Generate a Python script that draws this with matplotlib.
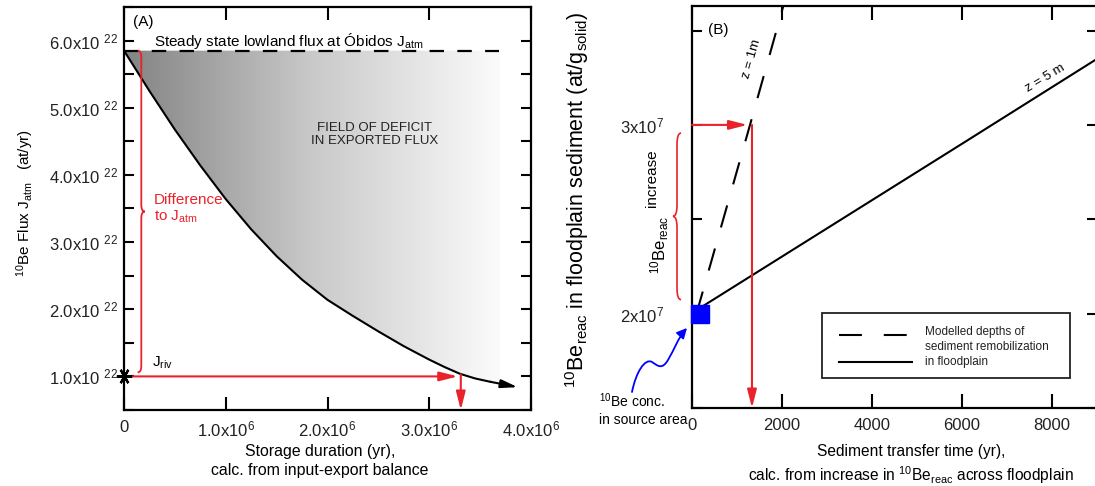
import numpy as np
import matplotlib
matplotlib.use("Agg")
import matplotlib.pyplot as plt
from matplotlib.path import Path
from matplotlib.patches import PathPatch, FancyArrowPatch, Rectangle

plt.rcParams['font.family'] = ['Liberation Sans', 'DejaVu Sans']
plt.rcParams['mathtext.fontset'] = 'custom'
plt.rcParams['mathtext.rm'] = 'Liberation Sans'
plt.rcParams['mathtext.it'] = 'Liberation Sans:italic'
plt.rcParams['mathtext.bf'] = 'Liberation Sans:bold'

# ---- panel A: exported flux vs storage duration ----
storage_yr = [0, 0.1e6, 0.25e6, 0.5e6, 0.75e6, 1.0e6, 1.25e6, 1.5e6, 1.75e6, 2.0e6,
              2.25e6, 2.5e6, 2.75e6, 3.0e6, 3.15e6, 3.3e6, 3.45e6, 3.6e6, 3.87e6]
flux_riv = [5.85e22, 5.61e22, 5.25e22, 4.675e22, 4.14e22, 3.64e22, 3.19e22, 2.79e22,
            2.44e22, 2.14e22, 1.90e22, 1.67e22, 1.45e22, 1.25e22, 1.14e22, 1.04e22,
            0.97e22, 0.92e22, 0.84e22]
J_atm = 5.85e22
J_riv = 1.0e22
storage_at_Jriv = 3.31e6
field_end = 3.69e6
xticks_A = [0, 1e6, 2e6, 3e6, 4e6]
xticklabels_A = ['0', r'1.0x10$^{6}$', r'2.0x10$^{6}$', r'3.0x10$^{6}$', r'4.0x10$^{6}$']
yticks_A = [1e22, 2e22, 3e22, 4e22, 5e22, 6e22]
yticklabels_A = [r'%d.0x10 $^{22}$' % v for v in range(1, 7)]

# ---- panel B: 10Be_reac vs sediment transfer time ----
z1_time = [100, 1289, 2100]
z1_conc = [2.0e7, 3.0e7, 3.69e7]
z5_time = [244, 6067, 9000]
z5_conc = [2.04e7, 2.91e7, 3.35e7]
source_time = 178
source_conc = 2.0e7
conc_target = 3.0e7
transfer_time = 1333
xticks_B = [0, 2000, 4000, 6000, 8000]
yticks_B = [1.5e7, 2.0e7, 2.5e7, 3.0e7, 3.5e7]
yticklabels_B = ['', r'2x10$^{7}$', '', r'3x10$^{7}$', '']

RED = '#e8232b'
W, H = 1095, 486


def brace(ax, x, y0, y1, w, h, sign, **kw):
    # curly brace along y at x; sign=+1 tip to the right, -1 to the left
    ym = 0.5 * (y0 + y1)
    e = x - sign * w
    t = x + sign * w
    verts = [(e, y1), (x, y1), (x, y1 - h),
             (x, ym + h),
             (x, ym), (t, ym),
             (x, ym), (x, ym - h),
             (x, y0 + h),
             (x, y0), (e, y0)]
    codes = [Path.MOVETO, Path.CURVE3, Path.CURVE3,
             Path.LINETO,
             Path.CURVE3, Path.CURVE3,
             Path.CURVE3, Path.CURVE3,
             Path.LINETO,
             Path.CURVE3, Path.CURVE3]
    p = PathPatch(Path(verts, codes), fill=False, clip_on=False, **kw)
    ax.add_patch(p)


def arrow(ax, start, end, color, hl=1.1, hw=0.28, lw=1.5):
    ax.annotate('', xy=end, xytext=start, annotation_clip=False,
                arrowprops=dict(arrowstyle='-|>,head_length=%g,head_width=%g' % (hl, hw),
                                color=color, lw=lw, shrinkA=0, shrinkB=0))


def px_axes(ax_box, x, y):
    # figure pixel -> axes fraction for an axes placed at ax_box (left, top, right, bottom px)
    l, t, r, b = ax_box
    return (x - l) / (r - l), (b - y) / (b - t)


fig = plt.figure(figsize=(10.95, 4.86), dpi=100)

# ================= panel A =================
boxA = (124, 7, 531, 410)
axA = fig.add_axes([boxA[0] / W, (H - boxA[3]) / H, (boxA[2] - boxA[0]) / W,
                    (boxA[3] - boxA[1]) / H])
axA.set_xlim(0, 4e6)
axA.set_ylim(0.5e22, 6.5e22)

# shaded deficit field: grey ramp clipped between J_atm and the export curve
poly = axA.fill_between(storage_yr, flux_riv, J_atm, facecolor='none', edgecolor='none')
ramp = np.linspace(0.0, 1.0, 256).reshape(1, -1)
im = axA.imshow(ramp, cmap=matplotlib.colors.LinearSegmentedColormap.from_list(
    'g', ['#838383', '#c9c9c9', '#fbfbfb']), aspect='auto',
    extent=(0, field_end, 0.5e22, J_atm), zorder=1)
im.set_clip_path(poly.get_paths()[0], transform=axA.transData)

axA.plot([0, field_end], [J_atm, J_atm], color='black', lw=1.6,
         linestyle=(0, (6.5, 6)), zorder=3)
axA.plot(storage_yr[:-1], flux_riv[:-1], color='black', lw=1.5, zorder=3)
arrow(axA, (storage_yr[-2], flux_riv[-2]), (storage_yr[-1], flux_riv[-1]), 'black',
      hl=1.0, hw=0.25)

# J_riv read-off
arrow(axA, (0, J_riv), (storage_at_Jriv - 0.03e6, J_riv), RED)
arrow(axA, (storage_at_Jriv, 1.03e22), (storage_at_Jriv, 0.5e22), RED)
axA.plot([0], [J_riv], marker=(6, 2, 90), ms=11, mew=1.6, color='black',
         clip_on=False, zorder=6)
brace(axA, 0.17e6, 1.06e22, J_atm, 0.035e6, 0.1e22, +1, color=RED, lw=1.3, zorder=4)

axA.text(0.09e6, 6.27e22, '(A)', fontsize=11, va='center')
axA.text(0.29e6, 6.0e22, r'Steady state lowland flux at Óbidos J$_{\rm atm}$',
         fontsize=11, va='center')
axA.text(2.46e6, 4.6e22, 'FIELD OF DEFICIT\nIN EXPORTED FLUX', fontsize=9.5,
         ha='center', va='center', linespacing=1.15, color='#222222')
axA.text(0.29e6, 3.49e22, 'Difference\n' + r'to J$_{\rm atm}$', fontsize=11, color=RED,
         va='center', linespacing=1.1)
axA.text(0.28e6, 1.21e22, r'J$_{\rm riv}$', fontsize=11, va='center')

axA.set_xticks(xticks_A)
axA.set_xticklabels(xticklabels_A)
axA.set_yticks(yticks_A)
axA.set_yticklabels(yticklabels_A)
axA.set_yticks(np.arange(0.5e22, 6.6e22, 0.5e22), minor=True)
axA.tick_params(axis='x', direction='in', top=True, length=9.5, width=1.5,
                labelsize=12, pad=7)
axA.tick_params(axis='y', which='both', direction='in', right=True, length=7.5,
                width=1.5, labelsize=12, pad=4)
axA.text(*px_axes(boxA, 25, 203), r'$^{10}$Be Flux J$_{\rm atm}$   (at/yr)',
         transform=axA.transAxes, rotation=90, ha='center', va='center', fontsize=11)
axA.text(*px_axes(boxA, 320, 444), 'Storage duration (yr),\ncalc. from input-export balance',
         transform=axA.transAxes, ha='center', va='top', fontsize=11.4, linespacing=1.3)

# ================= panel B =================
boxB = (692, 6, 1097, 408)
axB = fig.add_axes([boxB[0] / W, (H - boxB[3]) / H, (boxB[2] - boxB[0]) / W,
                    (boxB[3] - boxB[1]) / H])
axB.set_xlim(0, 9000)
axB.set_ylim(1.5e7, 3.63e7)

axB.plot(z1_time, z1_conc, color='black', lw=1.5, linestyle=(0, (11, 10.5)), zorder=3)
axB.plot(z5_time, z5_conc, color='black', lw=1.5, zorder=3)
axB.plot([source_time], [source_conc], marker='s', ms=12.5, color='blue',
         clip_on=False, zorder=5)

arrow(axB, (0, conc_target), (transfer_time - 100, conc_target), RED)
arrow(axB, (transfer_time, conc_target), (transfer_time, 1.5e7), RED)
brace(axB, -333, 2.074e7, 2.957e7, 90, 0.06e7, -1, color=RED, lw=1.2, zorder=4)

axB.text(0.04, 0.94, '(B)', transform=axB.transAxes, fontsize=11, va='center')
axB.text(1333, 3.35e7, 'z = 1m', rotation=74, fontsize=9.5, ha='center', va='center')
axB.text(7844, 3.245e7, 'z = 5 m', rotation=31, fontsize=9.5, ha='center', va='center')

# legend box
axB.add_patch(Rectangle((0.321, 0.075), 0.612, 0.161, transform=axB.transAxes,
                        fill=False, lw=1.3, edgecolor='#222222'))
axB.plot([0.363, 0.531], [0.182, 0.182], transform=axB.transAxes, color='black',
         lw=1.5, linestyle=(0, (11, 10.5)))
axB.plot([0.363, 0.543], [0.114, 0.114], transform=axB.transAxes, color='black', lw=1.5)
axB.text(0.575, 0.152, 'Modelled depths of\nsediment remobilization\nin floodplain',
         transform=axB.transAxes, fontsize=8.5, va='center', linespacing=1.3,
         color='#222222')

axB.set_xticks(xticks_B)
axB.set_yticks(yticks_B)
axB.set_yticklabels(yticklabels_B)
axB.tick_params(axis='x', direction='in', top=True, length=10, width=1.5,
                labelsize=12, pad=7)
axB.tick_params(axis='y', direction='in', right=True, length=7.5, width=1.5,
                labelsize=12, pad=20)
axB.text(*px_axes(boxB, 660, 245), r'$^{10}$Be$_{\rm reac}$', transform=axB.transAxes,
         rotation=90, ha='center', va='center', fontsize=12)
axB.text(*px_axes(boxB, 652, 178), 'increase', transform=axB.transAxes,
         rotation=90, ha='center', va='center', fontsize=11)
axB.text(*px_axes(boxB, 577, 200),
         r'$^{10}$Be$_{\rm reac}$ in floodplain sediment (at/g$_{\rm solid}$)',
         transform=axB.transAxes, rotation=90, ha='center', va='center', fontsize=15.5)
axB.text(*px_axes(boxB, 911, 444),
         'Sediment transfer time (yr),\n' + r'calc. from increase in $^{10}$Be$_{\rm reac}$ across floodplain',
         transform=axB.transAxes, ha='center', va='top', fontsize=11.2, linespacing=1.3)
fig.text(599 / W, 1 - 409 / H, '$^{10}$Be conc.\nin source area', fontsize=10,
         va='center', linespacing=1.25)

# wavy pointer from the source-area note to the blue square
pts = [(632, 392), (636, 372), (645, 358), (652, 362),
       (658, 366), (662, 370), (668, 360),
       (674, 350), (678, 338), (687, 328)]
codes = [Path.MOVETO] + [Path.CURVE4] * 9
wave = Path([(x / W, 1 - y / H) for x, y in pts], codes)
fig.patches.append(FancyArrowPatch(path=wave, arrowstyle='-|>,head_length=6,head_width=3',
                                   color='blue', lw=1.3, transform=fig.transFigure,
                                   figure=fig))

for ax in (axA, axB):
    for s in ax.spines.values():
        s.set_linewidth(1.6)
    for lab in ax.get_xticklabels() + ax.get_yticklabels():
        lab.set_color('#222222')

fig.savefig('out.png', dpi=100)
